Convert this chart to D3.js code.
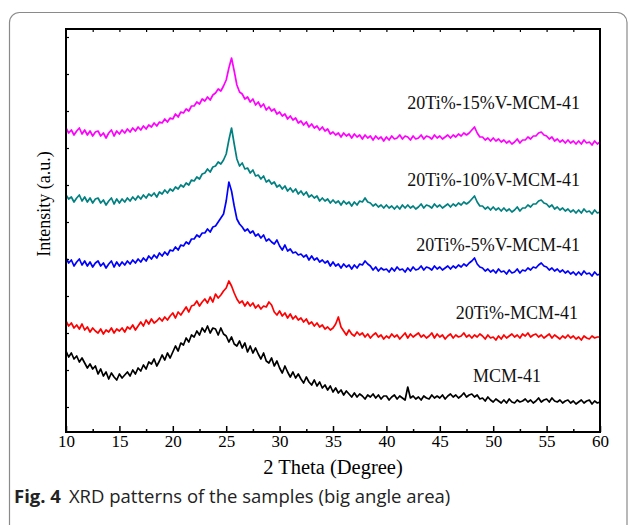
<!DOCTYPE html>
<html>
<head>
<meta charset="utf-8">
<script src="https://cdn.jsdelivr.net/npm/d3@7"></script>
<style>
  body { margin: 0; background: #fff; }
  svg { display: block; }
</style>
</head>
<body>
<svg id="chart" width="629" height="525"></svg>
<script>
// Diffraction angle grid (degrees 2θ), one reading every 0.25°
const angleStart = 10;
const angleStep = 0.25;

// Intensity readings (a.u.) per sample, four per degree from 10° to 60°
const mcm41 = [
  81,75,79,73, 76,70,74,69, 64,68,63,66, 58,63,56,60, 53,59,55,52,
  58,54,57,60, 56,62,58,64, 61,67,63,70, 68,73,66,71, 77,72,79,74,
  80,86,81,89, 87,94,90,97, 95,101,97,104, 100,106,99,104, 103,97,104,98,
  96,90,95,88, 86,91,84,89, 80,86,79,84, 78,73,79,71, 69,74,66,71,
  64,59,66,60, 55,60,54,58, 53,49,55,50, 47,52,46,50, 44,47,42,46,
  40,44,39,42, 37,41,38,35, 39,35,38,36, 33,37,35,38, 34,37,33,36,
  36,32,35,37, 33,36,34,32, 45,34,36,33, 35,32,36,34, 33,37,34,36,
  34,37,33,36, 38,35,37,34, 36,39,35,37, 38,35,37,33, 34,31,35,32,
  30,33,31,29, 32,29,33,30, 29,32,30,31, 33,30,32,29, 31,34,30,32,
  33,30,34,31, 30,32,29,31, 32,29,31,28, 30,32,29,31, 32,28,31,29,
  30
];
const ti20 = [
  111,106,109,104, 107,103,108,102, 105,100,104,101, 99,103,98,102, 100,104,99,103,
  101,104,100,105, 103,107,102,106, 110,106,112,108, 113,109,111,114, 111,115,112,116,
  119,114,120,117, 121,125,120,126, 127,131,126,130, 133,129,135,130, 138,134,137,141,
  144,151,146,139, 133,129,131,126, 130,126,129,124, 127,123,126,125, 130,127,120,117,
  121,116,119,114, 118,113,116,112, 114,110,113,108, 110,106,109,105, 107,103,105,102,
  104,108,115,105, 101,97,102,98, 96,100,97,99, 95,98,94,97, 99,95,97,93,
  96,94,98,95, 97,93,96,99, 94,98,95,97, 99,95,97,94, 96,99,94,98,
  95,97,93,96, 98,94,97,95, 96,99,95,97, 94,97,95,98, 96,93,97,94,
  95,92,96,93, 97,94,96,98, 95,97,94,98, 96,99,95,97, 98,95,97,94,
  96,98,94,97, 95,93,96,94, 97,94,96,93, 95,92,96,94, 93,96,94,95,
  95
];
const ti20v5 = [
  174,169,172,166, 170,173,167,171, 166,170,165,169, 171,166,169,164, 168,171,165,170,
  166,170,167,171, 168,172,169,173, 170,174,171,176, 173,177,174,179, 176,180,177,182,
  181,185,182,187, 186,190,188,193, 193,197,195,199, 199,203,200,205, 206,210,214,218,
  231,250,241,226, 213,208,205,201, 203,199,201,196, 198,194,197,191, 193,190,188,192,
  186,182,187,181, 183,179,180,177, 178,175,177,172, 176,172,174,170, 172,169,171,166,
  170,166,168,164, 168,165,167,163, 167,164,168,167, 171,168,166,162, 165,161,164,162,
  163,160,164,161, 165,162,163,160, 164,161,165,162, 163,166,162,165, 164,162,166,163,
  165,162,164,166, 163,166,164,167, 165,168,166,169, 171,174,168,165, 164,161,163,160,
  162,159,163,160, 161,158,162,159, 160,163,159,162, 161,164,162,165, 164,167,169,166,
  165,162,164,161, 163,160,162,159, 161,158,160,157, 160,157,161,158, 159,156,160,157,
  158
];
const ti20v10 = [
  237,233,235,230, 234,237,231,235, 230,234,229,233, 234,229,232,227, 231,234,228,233,
  229,233,230,234, 231,235,232,236, 233,237,234,238, 236,239,235,240, 238,242,239,243,
  241,245,243,247, 245,249,247,252, 251,255,253,258, 259,263,260,265, 266,270,268,272,
  278,292,304,288, 273,266,269,263, 264,259,262,256, 257,253,256,250, 252,248,250,245,
  247,243,246,241, 244,240,243,238, 241,237,240,235, 237,234,236,231, 234,231,233,229,
  232,229,231,227, 231,228,230,226, 230,227,231,230, 234,230,229,226, 228,225,227,224,
  227,224,226,223, 226,223,227,224, 227,224,226,223, 225,228,224,227, 226,224,228,225,
  227,224,226,228, 225,228,226,229, 227,230,228,230, 233,236,230,226, 226,223,225,222,
  225,222,224,221, 224,221,223,220, 222,225,221,224, 224,227,225,228, 228,231,232,229,
  228,225,227,223, 225,222,224,221, 223,220,222,219, 222,219,223,220, 221,218,222,219,
  220
];
const ti20v15 = [
  304,299,302,297, 301,304,298,302, 297,301,296,300, 301,296,299,294, 299,302,296,301,
  298,302,299,303, 300,304,301,305, 302,306,303,307, 305,309,306,310, 309,313,310,314,
  313,318,315,320, 319,323,321,326, 326,330,328,333, 331,335,332,337, 339,343,341,346,
  352,364,374,361, 347,340,338,333, 335,330,333,327, 330,325,328,322, 325,321,323,318,
  320,316,318,313, 316,312,314,309, 311,307,310,305, 308,304,306,302, 305,301,303,298,
  300,297,299,295, 299,296,298,294, 298,295,297,293, 297,294,296,292, 296,293,295,291,
  295,292,296,293, 294,297,293,296, 295,292,296,293, 294,297,293,296, 295,293,297,294,
  296,293,295,297, 294,297,295,298, 296,299,297,299, 302,305,299,295, 295,292,294,291,
  294,291,293,290, 292,289,291,288, 290,293,289,292, 292,295,293,296, 296,299,300,297,
  296,293,295,291, 293,290,292,289, 292,289,291,288, 291,288,292,289, 290,287,291,288,
  290
];

const sampleNames = ["MCM-41", "20Ti%-MCM-41", "20Ti%-5%V-MCM-41", "20Ti%-10%V-MCM-41", "20Ti%-15%V-MCM-41"];
const sampleSeries = [mcm41, ti20, ti20v5, ti20v10, ti20v15];
const xTickValues = [10, 15, 20, 25, 30, 35, 40, 45, 50, 55, 60];

// Styling and layout
const lineColors = ["#000000", "#ff0000", "#0000ff", "#008080", "#ff00ff"];
const labelAnchors = [[541, 382], [578, 319], [580, 251], [580, 186], [580, 109]];
const margin = { left: 66, right: 29, top: 29, bottom: 93 };
const W = 629, H = 525;

const svg = d3.select("#chart");

// Outer figure frame with rounded top corners
svg.append("rect")
  .attr("x", 9.5).attr("y", 12.5)
  .attr("width", 617.5).attr("height", 560)
  .attr("rx", 10).attr("ry", 10)
  .attr("fill", "none").attr("stroke", "#8a8a8a").attr("stroke-width", 1.2);

const x0 = margin.left, x1 = W - margin.right;
const y0 = H - margin.bottom, y1 = margin.top;

const x = d3.scaleLinear().domain([10, 60]).range([x0, x1]);
const y = d3.scaleLinear().domain([0, 403]).range([y0, y1]);

const g = svg.append("g");

// Diffraction patterns
const line = d3.line()
  .x((d, i) => x(angleStart + i * angleStep))
  .y(d => y(d));

sampleSeries.forEach((vals, k) => {
  g.append("path")
    .datum(vals)
    .attr("fill", "none")
    .attr("stroke", lineColors[k])
    .attr("stroke-width", 1.7)
    .attr("stroke-linejoin", "round")
    .attr("d", line);
});

// Axes: bottom with labels, minor ticks, top and left ticks pointing inward
const minorX = d3.range(12.5, 60, 5);

const bottomAxis = g.append("g").attr("transform", `translate(0,${y0})`)
  .call(d3.axisBottom(x).tickValues(xTickValues).tickSizeInner(-6).tickSizeOuter(0).tickPadding(3).tickFormat(d3.format("d")));
bottomAxis.select(".domain").remove();
bottomAxis.selectAll(".tick line").attr("stroke", "#000").attr("stroke-width", 1.5);
bottomAxis.selectAll(".tick text")
  .attr("font-family", "'Liberation Serif', 'Times New Roman', serif")
  .attr("font-size", 17).attr("fill", "#000");

const bottomMinor = g.append("g").attr("transform", `translate(0,${y0})`)
  .call(d3.axisBottom(x).tickValues(minorX).tickSizeInner(-3).tickSizeOuter(0).tickFormat(""));
bottomMinor.select(".domain").remove();
bottomMinor.selectAll(".tick line").attr("stroke", "#000").attr("stroke-width", 1.5);

const topAxis = g.append("g").attr("transform", `translate(0,${y1})`)
  .call(d3.axisTop(x).tickValues(d3.range(12.5, 60, 2.5)).tickSizeInner(-3).tickSizeOuter(0).tickFormat(""));
topAxis.select(".domain").remove();
topAxis.selectAll(".tick line").attr("stroke", "#000").attr("stroke-width", 1.2);

const leftAxis = g.append("g").attr("transform", `translate(${x0},0)`)
  .call(d3.axisLeft(y).tickValues(d3.range(25, 403, 37)).tickSizeInner(-3).tickSizeOuter(0).tickFormat(""));
leftAxis.select(".domain").remove();
leftAxis.selectAll(".tick line").attr("stroke", "#000").attr("stroke-width", 1.2);

// Plot box
g.append("rect")
  .attr("x", x0).attr("y", y1)
  .attr("width", x1 - x0).attr("height", y0 - y1)
  .attr("fill", "none").attr("stroke", "#000").attr("stroke-width", 2);

// Sample labels
sampleNames.forEach((name, k) => {
  g.append("text")
    .attr("x", labelAnchors[k][0]).attr("y", labelAnchors[k][1])
    .attr("text-anchor", "end")
    .attr("font-family", "'Liberation Serif', 'Times New Roman', serif")
    .attr("font-size", 18)
    .attr("fill", "#111")
    .text(name);
});

// Axis titles
g.append("text")
  .attr("x", (x0 + x1) / 2).attr("y", 474)
  .attr("text-anchor", "middle")
  .attr("font-family", "'Liberation Serif', 'Times New Roman', serif")
  .attr("font-size", 20.5).attr("fill", "#000")
  .text("2 Theta (Degree)");

g.append("text")
  .attr("transform", "translate(50,204) rotate(-90)")
  .attr("text-anchor", "middle")
  .attr("font-family", "'Liberation Serif', 'Times New Roman', serif")
  .attr("font-size", 18).attr("fill", "#000")
  .text("Intensity (a.u.)");

// Figure caption
const cap = svg.append("text")
  .attr("x", 14).attr("y", 503)
  .attr("font-family", "'Open Sans', 'Noto Sans', sans-serif")
  .attr("font-size", 18.5).attr("fill", "#222");
cap.append("tspan").attr("font-weight", "bold").text("Fig. 4");
cap.append("tspan").attr("dx", 8).text("XRD patterns of the samples (big angle area)");
</script>
</body>
</html>
